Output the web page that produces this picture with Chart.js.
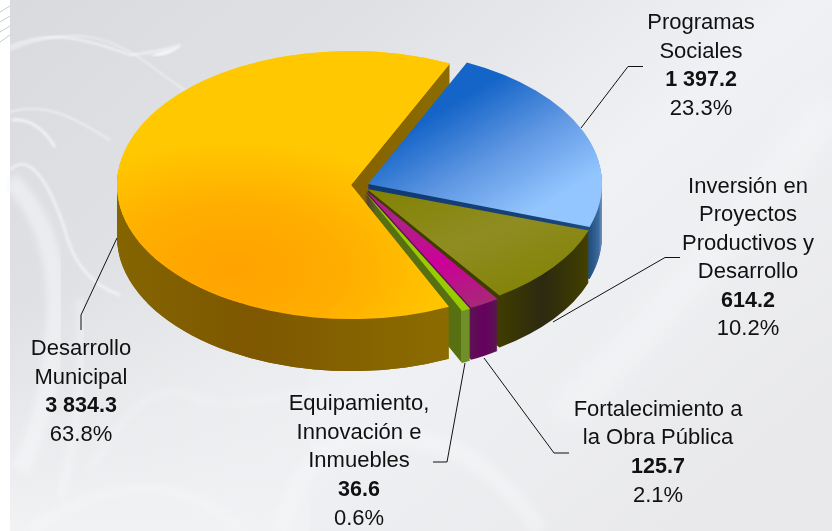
<!DOCTYPE html>
<html lang="es">
<head>
<meta charset="utf-8">
<title>Distribución</title>
<script src="https://cdn.jsdelivr.net/npm/chart.js@4/dist/chart.umd.min.js"></script>
<style>
html,body{margin:0;padding:0;width:832px;height:531px;overflow:hidden;background:#fff}
#bg{position:absolute;left:0;top:0}
#c{position:absolute;left:0;top:0}
</style>
</head>
<body>
<svg id="bg" width="832" height="531" viewBox="0 0 832 531" xmlns="http://www.w3.org/2000/svg">
<defs>
<linearGradient id="base" x1="0" y1="0" x2="1" y2="0.75">
<stop offset="0" stop-color="#d8dadd"/><stop offset="0.3" stop-color="#e0e1e4"/><stop offset="0.62" stop-color="#eff1f4"/><stop offset="1" stop-color="#e9e9eb"/>
</linearGradient>
<linearGradient id="low" x1="0" y1="0" x2="0" y2="1">
<stop offset="0" stop-color="#e8e9eb" stop-opacity="0"/><stop offset="1" stop-color="#f1f2f4" stop-opacity="1"/>
</linearGradient>
<filter id="b1"><feGaussianBlur stdDeviation="1"/></filter>
<filter id="b3"><feGaussianBlur stdDeviation="3"/></filter>
<filter id="b12"><feGaussianBlur stdDeviation="12"/></filter>
</defs>
<rect x="10" width="822" height="531" fill="url(#base)"/>
<rect x="10" y="300" width="300" height="231" fill="url(#low)"/>
<g fill="none" stroke="#f6f7f9">
<path d="M10 50 C70 25 110 35 150 65 C175 85 200 100 215 110" stroke-width="1.5" opacity=".8" filter="url(#b1)"/>
<path d="M10 47 C50 28 90 40 130 55 C150 52 170 50 180 45" stroke-width="2" opacity=".8" filter="url(#b1)"/>
<path d="M10 112 C50 100 85 125 110 140" stroke-width="1.5" opacity=".8" filter="url(#b1)"/>
<path d="M12 120 C30 118 45 130 55 147" stroke-width="3" opacity=".8" filter="url(#b1)"/>
<path d="M10 180 C45 215 60 265 55 330 C52 370 45 420 20 470" stroke-width="18" opacity=".55" filter="url(#b3)"/>
<path d="M10 170 C30 150 50 185 65 230 C72 260 90 285 120 295" stroke-width="3" opacity=".7" filter="url(#b1)"/>
<path d="M80 300 C85 350 80 420 60 500" stroke-width="8" opacity=".45" filter="url(#b3)"/>
<path d="M90 470 C120 420 150 380 190 395 C240 420 290 380 330 400" stroke-width="4" opacity=".55" filter="url(#b3)"/>
<path d="M30 530 C120 470 190 480 240 530" stroke-width="10" opacity=".4" filter="url(#b3)"/>
<path d="M280 531 C300 470 320 420 420 440 C480 450 520 500 540 531" stroke-width="18" opacity=".45" filter="url(#b3)"/>
<path d="M560 420 C640 340 720 250 832 105" stroke-width="34" opacity=".55" filter="url(#b12)"/>
</g>
<path d="M150 55 C165 52 175 48 182 45 C170 55 160 57 150 55Z" fill="#fafbfc" filter="url(#b1)"/>
<g stroke="#c9cbce" stroke-width="1" fill="none">
<path d="M0 12 L10 6"/><path d="M0 22 L10 16"/><path d="M0 32 L10 26"/><path d="M0 42 L10 35"/>
</g>
</svg>
<canvas id="c" width="832" height="531"></canvas>
<script>
const categories = ['Programas Sociales', 'Inversión en Proyectos Productivos y Desarrollo', 'Fortalecimiento a la Obra Pública', 'Equipamiento, Innovación e Inmuebles', 'Desarrollo Municipal'];
const values = [1397.2, 614.2, 125.7, 36.6, 3834.3];
const valueLabels = ['1 397.2', '614.2', '125.7', '36.6', '3 834.3'];
const percentLabels = ['23.3%', '10.2%', '2.1%', '0.6%', '63.8%'];
const nameLines = [
  ['Programas', 'Sociales'],
  ['Inversión en', 'Proyectos', 'Productivos y', 'Desarrollo'],
  ['Fortalecimiento a', 'la Obra Pública'],
  ['Equipamiento,', 'Innovación e', 'Inmuebles'],
  ['Desarrollo', 'Municipal']
];
const sliceColors = ['#4a8ae0', '#808000', '#cc0099', '#99cc00', '#ffc800'];

// layout and style (not data)
const RADIUS = 234, DEPTH = 52;
const apexes = [
  {x: 368, y: 184, k: 0.573},
  {x: 367, y: 189, k: 0.552},
  {x: 365, y: 190, k: 0.565},
  {x: 364, y: 191, k: 0.565},
  {x: 351, y: 185, k: 0.573}
];
const labelBoxes = [
  {cx: 701, first: 29, line: 28.7},
  {cx: 748, first: 192.5, line: 28.5},
  {cx: 658, first: 415.5, line: 28.7},
  {cx: 359, first: 410, line: 28.7},
  {cx: 81, first: 355, line: 28.5}
];
const leaders = [
  [[581,128],[628,66.5],[643,66.5]],
  [[553,322],[665,257.5],[680,257.5]],
  [[484,358],[554,453],[569,453]],
  [[465,363],[447,462],[433,462]],
  [[117,238],[81,315],[81,330]]
];

function stops(g, list){ list.forEach(s => g.addColorStop(s[0], s[1])); return g; }

const pie3d = {
  id: 'pie3d',
  beforeDatasetDraw(chart, args) {
    const ctx = chart.ctx;
    const arcs = args.meta.data;
    const ox = arcs[0].x, oy = arcs[0].y;
    const X = (i, sx) => sx - apexes[i].x + ox;
    const Y = (i, sy) => (sy - apexes[i].y) / apexes[i].k + oy;
    const hGrad = (i, a, b, list) => stops(ctx.createLinearGradient(X(i, a), 0, X(i, b), 0), list);
    const lGrad = (i, x0, y0, x1, y1, list) => stops(ctx.createLinearGradient(X(i, x0), Y(i, y0), X(i, x1), Y(i, y1)), list);

    const walls = [
      hGrad(0, 370, 602, [[0,'#0f3a72'],[0.85,'#1a4478'],[0.95,'#22507f'],[0.985,'#3d6a9e'],[1,'#6d94c0']]),
      hGrad(1, 498, 588, [[0,'#403c00'],[0.5,'#2c2a10'],[0.9,'#3d3a02'],[1,'#454100']]),
      hGrad(2, 469, 497, [[0,'#5c1450'],[0.55,'#660060'],[1,'#5a1650']]),
      hGrad(3, 449, 469, [[0,'#567012'],[0.58,'#587010'],[0.62,'#6f8f28'],[1,'#6f8f28']]),
      hGrad(4, 117, 450, [[0,'#846500'],[0.4,'#7e5700'],[1,'#8c6c00']])
    ];
    const tops = [
      lGrad(0, 375, 150, 510, 225, [[0,'#1565c8'],[0.5,'#5f97e2'],[1,'#93c6ff']]),
      lGrad(1, 400, 170, 560, 300, [[0,'#808000'],[0.5,'#8f8d22'],[1,'#808000']]),
      lGrad(2, 395, 225, 480, 315, [[0,'#b02088'],[0.45,'#cc0099'],[1,'#a03070']]),
      '#99cc00',
      (() => {
        const cx = X(4, 235), cy = Y(4, 270);
        const g = ctx.createRadialGradient(cx, cy, 0, cx, cy, 225);
        return stops(g, [[0,'#ffa200'],[0.5,'#ffae00'],[1,'#ffc800']]);
      })()
    ];

    function paint(i, fill, dy) {
      const arc = arcs[i], saved = arc.options, a = apexes[i];
      arc.options = Object.create(saved, {
        backgroundColor: {value: fill}, borderWidth: {value: 0}
      });
      ctx.save();
      ctx.translate(a.x, a.y + dy);
      ctx.scale(1, a.k);
      ctx.translate(-ox, -oy);
      arc.draw(ctx);
      ctx.restore();
      arc.options = saved;
    }
    function wall(i) { for (let d = DEPTH; d >= 1; d--) paint(i, walls[i], d); }
    function solid(i) { wall(i); paint(i, tops[i], 0); }

    solid(4);
    solid(0);
    solid(1);
    solid(2);
    solid(3);
    ctx.save();
    ctx.beginPath();
    ctx.rect(0, 303, 832, 228);
    ctx.clip();
    wall(4);
    ctx.restore();
    paint(4, tops[4], 0);
    return false;
  },
  afterDraw(chart) {
    const ctx = chart.ctx;
    ctx.save();
    ctx.strokeStyle = '#111';
    ctx.lineWidth = 1;
    leaders.forEach(pts => {
      ctx.beginPath();
      pts.forEach((p, j) => j ? ctx.lineTo(p[0], p[1]) : ctx.moveTo(p[0], p[1]));
      ctx.stroke();
    });
    ctx.fillStyle = '#111';
    ctx.textAlign = 'center';
    ctx.textBaseline = 'alphabetic';
    categories.forEach((_, i) => {
      const box = labelBoxes[i];
      let y = box.first;
      ctx.font = '22px "Liberation Sans", Arial, sans-serif';
      nameLines[i].forEach(t => { ctx.fillText(t, box.cx, Math.round(y)); y += box.line; });
      ctx.font = 'bold 21.5px "Liberation Sans", Arial, sans-serif';
      ctx.fillText(valueLabels[i], box.cx, Math.round(y)); y += box.line;
      ctx.font = '22px "Liberation Sans", Arial, sans-serif';
      ctx.fillText(percentLabels[i], box.cx, Math.round(y));
    });
    ctx.restore();
  }
};

new Chart(document.getElementById('c'), {
  type: 'pie',
  data: {
    labels: categories,
    datasets: [{
      data: values,
      backgroundColor: sliceColors,
      borderWidth: 0,
      radius: RADIUS
    }]
  },
  options: {
    responsive: false,
    animation: false,
    rotation: 25,
    events: [],
    plugins: {legend: {display: false}, tooltip: {enabled: false}}
  },
  plugins: [pie3d]
});
</script>
</body>
</html>
